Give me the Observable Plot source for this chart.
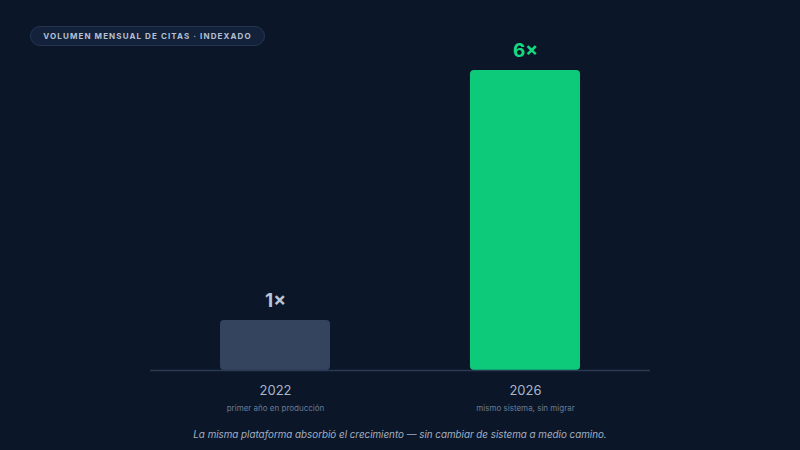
<!DOCTYPE html>
<html><head><meta charset="utf-8">
<script src="https://cdn.jsdelivr.net/npm/d3@7"></script>
<script src="https://cdn.jsdelivr.net/npm/@observablehq/plot@0.6"></script>
<style>
html,body{margin:0;padding:0;background:#0b1729;width:800px;height:450px;overflow:hidden;font-family:Inter,"Noto Sans",sans-serif;}
#wrap{position:relative;width:800px;height:450px;}
#pill{position:absolute;left:30px;top:26px;height:20px;width:235px;box-sizing:border-box;border:1px solid #243552;background:#13213a;border-radius:10px;color:#b4c0d2;font-size:8px;font-weight:700;letter-spacing:1.1px;display:flex;align-items:center;justify-content:center;}
#cap{position:absolute;left:0;width:800px;top:429px;text-align:center;font-style:italic;font-size:9.8px;color:#a3afc2;}
#chart{position:absolute;left:0;top:0;}
</style></head>
<body><div id="wrap"><div id="chart"></div><div id="pill">VOLUMEN MENSUAL DE CITAS · INDEXADO</div><div id="cap">La misma plataforma absorbió el crecimiento — sin cambiar de sistema a medio camino.</div></div>
<script>
const years = ["2022", "2026"];
const values = [1, 6];
const notes = ["primer año en producción", "mismo sistema, sin migrar"];
const labels = ["1×", "6×"];
const barColors = ["#34435e", "#0dca7a"];
const labelColors = ["#b9c4d6", "#14db82"];

const data = years.map((y, i) => ({year: y, value: values[i], note: notes[i], label: labels[i], fill: barColors[i], lc: labelColors[i]}));

const chart = Plot.plot({
  width: 800, height: 450,
  marginLeft: 150, marginRight: 150, marginTop: 70, marginBottom: 80,
  style: {background: "transparent", fontFamily: "Inter, 'Noto Sans', sans-serif"},
  x: {domain: years, paddingInner: 0.56, paddingOuter: 0.28, axis: null},
  y: {domain: [0, 6], axis: null},
  marks: [
    Plot.barY(data, {x: "year", y: "value", fill: "fill", rx: 4}),
    Plot.ruleY([0], {stroke: "#2b3a52", strokeWidth: 1.5}),
    Plot.text(data, {x: "year", y: "value", text: "label", fill: "lc", dy: -20, fontSize: 19, fontWeight: 700}),
    Plot.text(data, {x: "year", y: 0, text: "year", fill: "#aab5c7", dy: 20, fontSize: 13}),
    Plot.text(data, {x: "year", y: 0, text: "note", fill: "#6a7a92", dy: 38, fontSize: 8})
  ]
});
document.getElementById("chart").appendChild(chart);
</script></body></html>
